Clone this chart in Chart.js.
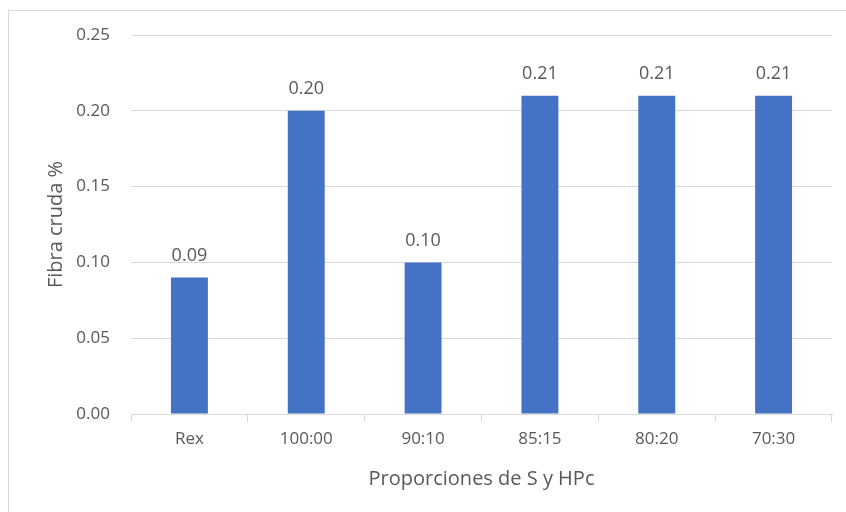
<!DOCTYPE html>
<html>
<head>
<meta charset="utf-8">
<script src="https://cdn.jsdelivr.net/npm/chart.js@4"></script>
<style>
  html, body { margin: 0; padding: 0; background: #fff; }
  #wrap { position: relative; width: 846px; height: 512px; overflow: hidden; }
  #frame { position: absolute; left: 8px; top: 10px; width: 900px; height: 600px;
           border-left: 1px solid #d9d9d9; border-top: 1px solid #d9d9d9; box-sizing: border-box; }
  canvas { position: absolute; left: 0; top: 0; }
</style>
</head>
<body>
<div id="wrap">
  <div id="frame"></div>
  <canvas id="c" width="846" height="512"></canvas>
</div>
<script>
// Crude fibre content for each S:HPc proportion
const categories = ['Rex', '100:00', '90:10', '85:15', '80:20', '70:30'];
const fibraCruda = [0.09, 0.20, 0.10, 0.21, 0.21, 0.21];
const yTicks = [0, 0.05, 0.10, 0.15, 0.20, 0.25];

const FONT = '"Open Sans", sans-serif';
const TEXT = '#595959';
const GRID = '#d9d9d9';

// Writes each bar's value above it
const valueLabels = {
  id: 'valueLabels',
  afterDatasetsDraw(chart) {
    const ctx = chart.ctx;
    const meta = chart.getDatasetMeta(0);
    ctx.save();
    ctx.font = '18px ' + FONT;
    ctx.fillStyle = TEXT;
    ctx.textAlign = 'center';
    ctx.textBaseline = 'middle';
    meta.data.forEach((bar, i) => {
      ctx.fillText(fibraCruda[i].toFixed(2), bar.x, bar.y - 22);
    });
    ctx.restore();
  }
};

new Chart(document.getElementById('c'), {
  type: 'bar',
  data: {
    labels: categories,
    datasets: [{
      data: fibraCruda,
      backgroundColor: '#4472C4',
      categoryPercentage: 1,
      barPercentage: 0.316
    }]
  },
  options: {
    responsive: false,
    animation: false,
    devicePixelRatio: 1,
    layout: { padding: { top: 35, right: 14, left: 0, bottom: 0 } },
    plugins: { legend: { display: false }, tooltip: { enabled: false } },
    scales: {
      x: {
        offset: true,
        grid: { offset: true, drawOnChartArea: false, color: GRID, tickLength: 8, tickColor: GRID },
        border: { display: true, color: GRID },
        ticks: { color: TEXT, font: { family: FONT, size: 17 }, padding: 7 },
        title: { display: true, text: 'Proporciones de S y HPc', color: TEXT,
                 font: { family: FONT, size: 20 }, padding: { top: 10, bottom: 21 } },
        afterFit(s) { s.height = 512 - 414; }
      },
      y: {
        min: 0, max: 0.25,
        afterBuildTicks(s) { s.ticks = yTicks.map(v => ({ value: v })); },
        grid: { color: GRID, drawTicks: false },
        border: { display: false },
        ticks: { color: TEXT, font: { family: FONT, size: 17 }, padding: 21,
                 callback: v => Number(v).toFixed(2) },
        title: { display: true, text: 'Fibra cruda %', color: TEXT,
                 font: { family: FONT, size: 20 }, padding: { top: 44, bottom: 0 } },
        afterFit(s) { s.width = 131; }
      }
    }
  },
  plugins: [valueLabels]
});
</script>
</body>
</html>
